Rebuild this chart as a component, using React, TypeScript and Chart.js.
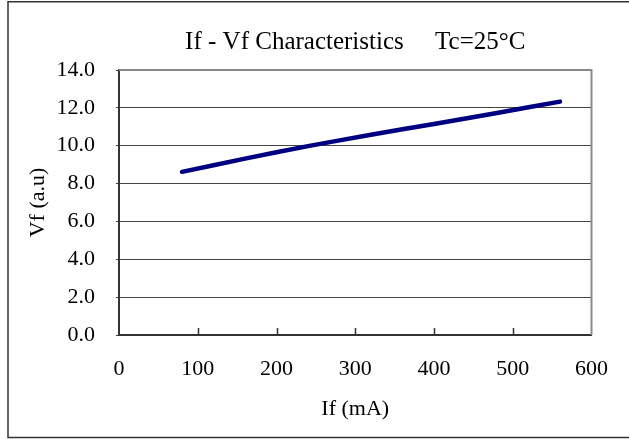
import React, { useEffect, useRef } from "react";
import { Chart, registerables } from "chart.js";

Chart.register(...registerables);

const currents = [80, 160, 240, 320, 400, 480, 560];
const voltages = [8.62, 9.32, 9.98, 10.58, 11.15, 11.73, 12.33];
const xTicks = [0, 100, 200, 300, 400, 500, 600];
const yTicks = [0, 2, 4, 6, 8, 10, 12, 14];
const titleText = "If - Vf Characteristics     Tc=25\u00B0C";
const xTitle = "If (mA)";
const yTitle = "Vf (a.u)";

const FONT = "'Liberation Serif', 'Times New Roman', serif";

const framePlugin = {
  id: "frame",
  afterDraw(chart: any) {
    const ctx = chart.ctx;
    const { top, bottom, right } = chart.chartArea;
    const xs = chart.scales.x;
    ctx.save();
    // plot top & right border (gray)
    ctx.strokeStyle = "#8a8a8a";
    ctx.lineWidth = 2;
    ctx.beginPath();
    ctx.moveTo(chart.chartArea.left, top);
    ctx.lineTo(right, top);
    ctx.lineTo(right, bottom);
    ctx.stroke();
    // inward x ticks
    ctx.strokeStyle = "#333";
    ctx.lineWidth = 1.5;
    ctx.beginPath();
    xTicks.slice(1, -1).forEach((v) => {
      const px = Math.round(xs.getPixelForValue(v)) + 0.5;
      ctx.moveTo(px, bottom);
      ctx.lineTo(px, bottom - 7);
    });
    ctx.stroke();
    // outer frame
    ctx.strokeStyle = "#333";
    ctx.lineWidth = 1.5;
    ctx.beginPath();
    ctx.moveTo(chart.width + 10, 1.75);
    ctx.lineTo(8, 1.75);
    ctx.lineTo(8, 437.5);
    ctx.lineTo(chart.width + 10, 437.5);
    ctx.stroke();
    ctx.restore();
  },
};

export default function App() {
  const canvasRef = useRef<HTMLCanvasElement | null>(null);

  useEffect(() => {
    const canvas = canvasRef.current;
    if (!canvas) return;
    const chart = new Chart(canvas, {
      type: "line",
      data: {
        datasets: [
          {
            data: currents.map((c, i) => ({ x: c, y: voltages[i] })),
            borderColor: "#000080",
            borderWidth: 4.5,
            borderCapStyle: "round",
            borderJoinStyle: "round",
            pointRadius: 0,
            tension: 0.2,
            fill: false,
          },
        ],
      },
      options: {
        responsive: false,
        animation: false,
        layout: { padding: { left: 0, top: 0, right: 35, bottom: 0 } },
        plugins: {
          legend: { display: false },
          tooltip: { enabled: false },
          title: {
            display: true,
            text: titleText,
            fullSize: false,
            color: "#000",
            font: { family: FONT, size: 25, weight: "normal" },
            padding: { top: 27, bottom: 13 },
          },
        },
        scales: {
          x: {
            type: "linear",
            min: 0,
            max: 600,
            afterBuildTicks: (s: any) => {
              s.ticks = xTicks.map((v) => ({ value: v }));
            },
            afterFit: (s: any) => {
              s.height = 104;
            },
            grid: { display: true, drawOnChartArea: false, drawTicks: false },
            border: { display: true, color: "#333", width: 2 },
            ticks: {
              color: "#000",
              padding: 21,
              maxRotation: 0,
              font: { family: FONT, size: 22 },
            },
            title: {
              display: true,
              text: xTitle,
              color: "#000",
              font: { family: FONT, size: 22 },
              padding: { top: 0, bottom: 17 },
            },
          },
          y: {
            type: "linear",
            min: 0,
            max: 14,
            afterBuildTicks: (s: any) => {
              s.ticks = yTicks.map((v) => ({ value: v }));
            },
            afterFit: (s: any) => {
              s.width = 119;
            },
            grid: {
              color: (c: any) => (c.tick && c.tick.value === 14 ? "rgba(0,0,0,0)" : "#444"),
              lineWidth: 1,
              tickLength: 3,
              tickColor: "#444",
            },
            border: { display: true, color: "#333", width: 2 },
            ticks: {
              color: "#000",
              padding: 21,
              font: { family: FONT, size: 22 },
              callback: (v: any) => Number(v).toFixed(1),
            },
            title: {
              display: true,
              text: yTitle,
              color: "#000",
              font: { family: FONT, size: 22 },
              padding: { top: 25, bottom: 0 },
            },
          },
        },
      },
      plugins: [framePlugin],
    } as any);
    return () => chart.destroy();
  }, []);

  return (
    <div style={{ position: "fixed", left: 0, top: 0, width: 629, height: 439, background: "#fff" }}>
      <canvas ref={canvasRef} width={629} height={439} style={{ display: "block" }} />
    </div>
  );
}
